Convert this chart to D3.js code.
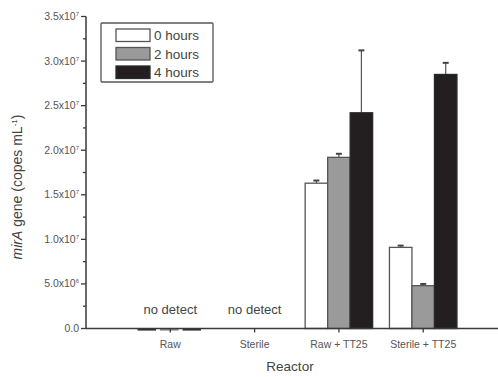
<!DOCTYPE html>
<html>
<head>
<meta charset="utf-8">
<script src="https://cdn.jsdelivr.net/npm/d3@7"></script>
<style>
  body { margin: 0; background: #fff; }
  svg { font-family: "Liberation Sans", Arial, sans-serif; }
</style>
</head>
<body>
<svg id="chart" width="498" height="377"></svg>
<script>
// data
const reactors = ["Raw", "Sterile", "Raw + TT25", "Sterile + TT25"];
const series = ["0 hours", "2 hours", "4 hours"];
const means = [
  [0, 0, 0],
  [null, null, null],
  [1.63e7, 1.92e7, 2.42e7],
  [0.91e7, 0.48e7, 2.85e7]
];
const errors = [
  [0, 0, 0],
  [null, null, null],
  [0.03e7, 0.04e7, 0.70e7],
  [0.02e7, 0.02e7, 0.13e7]
];
const noDetect = ["Raw", "Sterile"];
const yTicks = [0, 5e6, 1e7, 1.5e7, 2e7, 2.5e7, 3e7, 3.5e7];
const yTickLabels = [["0.0", ""], ["5.0x10", "6"], ["1.0x10", "7"], ["1.5x10", "7"], ["2.0x10", "7"], ["2.5x10", "7"], ["3.0x10", "7"], ["3.5x10", "7"]];

const fills = ["#ffffff", "#9a9a9a", "#231f20"];
const axisColor = "#3a3a3a";
const textColor = "#555";

const svg = d3.select("#chart");
const x0 = 86, yBase = 328.5;
const x = d3.scaleLinear().domain([0, 5]).range([x0, x0 + 5 * 84.3]);
const y = d3.scaleLinear().domain([0, 3.5e7]).range([yBase, 16.5]);
const barW = 22.5;

// bars
const g = svg.append("g");
reactors.forEach((r, i) => {
  const cx = x(i + 1);
  means[i].forEach((v, s) => {
    if (v === null) return;
    const bx = cx + (s - 1.5) * barW;
    const err = errors[i][s];
    if (v === 0) {
      // undetected: only a flat stub on the axis
      g.append("line").attr("x1", bx + 1).attr("x2", bx + barW - 3).attr("y1", yBase + 1).attr("y2", yBase + 1)
        .attr("stroke", s === 1 ? "#888" : "#333").attr("stroke-width", 2.2);
      return;
    }
    // error bar (upper only)
    if (err > 0) {
      g.append("line").attr("x1", cx + (s - 1) * barW).attr("x2", cx + (s - 1) * barW)
        .attr("y1", y(v)).attr("y2", y(v + err)).attr("stroke", "#555").attr("stroke-width", 1.2);
      g.append("line").attr("x1", cx + (s - 1) * barW - 3).attr("x2", cx + (s - 1) * barW + 3)
        .attr("y1", y(v + err)).attr("y2", y(v + err)).attr("stroke", "#444").attr("stroke-width", 2);
    }
    g.append("rect").attr("x", bx).attr("y", y(v)).attr("width", barW).attr("height", Math.max(0, yBase - y(v)))
      .attr("fill", fills[s]).attr("stroke", s === 2 ? "#2a2a2a" : "#555").attr("stroke-width", 1.3);
  });
});

// no detect labels
noDetect.forEach(r => {
  svg.append("text").attr("x", x(reactors.indexOf(r) + 1)).attr("y", yBase - 15)
    .attr("text-anchor", "middle").attr("font-size", 13).attr("fill", "#444").text("no detect");
});

// y axis
svg.append("line").attr("x1", x0).attr("x2", x0).attr("y1", y(3.5e7)).attr("y2", yBase)
  .attr("stroke", axisColor).attr("stroke-width", 1.5);
d3.range(0, 3.5e7 + 1, 2.5e6).forEach(t => {
  const major = t % 5e6 === 0;
  svg.append("line").attr("x1", x0 - (major ? 5 : 3)).attr("x2", x0).attr("y1", y(t)).attr("y2", y(t))
    .attr("stroke", axisColor).attr("stroke-width", 1.3);
});
yTicks.forEach((t, i) => {
  const txt = svg.append("text").attr("x", x0 - 7).attr("y", y(t) + 3.5).attr("text-anchor", "end")
    .attr("font-size", 10.5).attr("fill", textColor);
  txt.append("tspan").text(yTickLabels[i][0]);
  if (yTickLabels[i][1]) txt.append("tspan").attr("font-size", 6).attr("dy", -4).text(yTickLabels[i][1]);
});

// x axis
svg.append("line").attr("x1", x0).attr("x2", 498).attr("y1", yBase).attr("y2", yBase)
  .attr("stroke", axisColor).attr("stroke-width", 1.5);
reactors.forEach((r, i) => {
  svg.append("line").attr("x1", x(i + 1)).attr("x2", x(i + 1)).attr("y1", yBase).attr("y2", yBase + 4)
    .attr("stroke", axisColor).attr("stroke-width", 1.3);
  svg.append("text").attr("x", x(i + 1)).attr("y", yBase + 19).attr("text-anchor", "middle")
    .attr("font-size", 10.5).attr("fill", textColor).text(r);
});

// axis titles
svg.append("text").attr("x", 290).attr("y", 371).attr("text-anchor", "middle")
  .attr("font-size", 13.5).attr("fill", "#444").text("Reactor");
const yt = svg.append("text").attr("transform", "translate(22,187) rotate(-90)").attr("text-anchor", "middle")
  .attr("font-size", 14).attr("fill", "#444");
yt.append("tspan").attr("font-style", "italic").text("mirA");
yt.append("tspan").text(" gene (copes mL");
yt.append("tspan").attr("font-size", 8).attr("dy", -5).text("-1");
yt.append("tspan").attr("dy", 5).text(")");

// legend
const lg = svg.append("g");
lg.append("rect").attr("x", 101).attr("y", 23).attr("width", 112).attr("height", 59)
  .attr("fill", "#fff").attr("stroke", "#555").attr("stroke-width", 1.3).attr("rx", 1);
series.forEach((s, i) => {
  const ly = 29 + i * 18.5;
  lg.append("rect").attr("x", 116).attr("y", ly).attr("width", 34).attr("height", 12.5)
    .attr("fill", fills[i]).attr("stroke", i === 2 ? "#2a2a2a" : "#555").attr("stroke-width", 1.3);
  lg.append("text").attr("x", 154).attr("y", ly + 11).attr("font-size", 13.5).attr("fill", "#444").text(s);
});
</script>
</body>
</html>
